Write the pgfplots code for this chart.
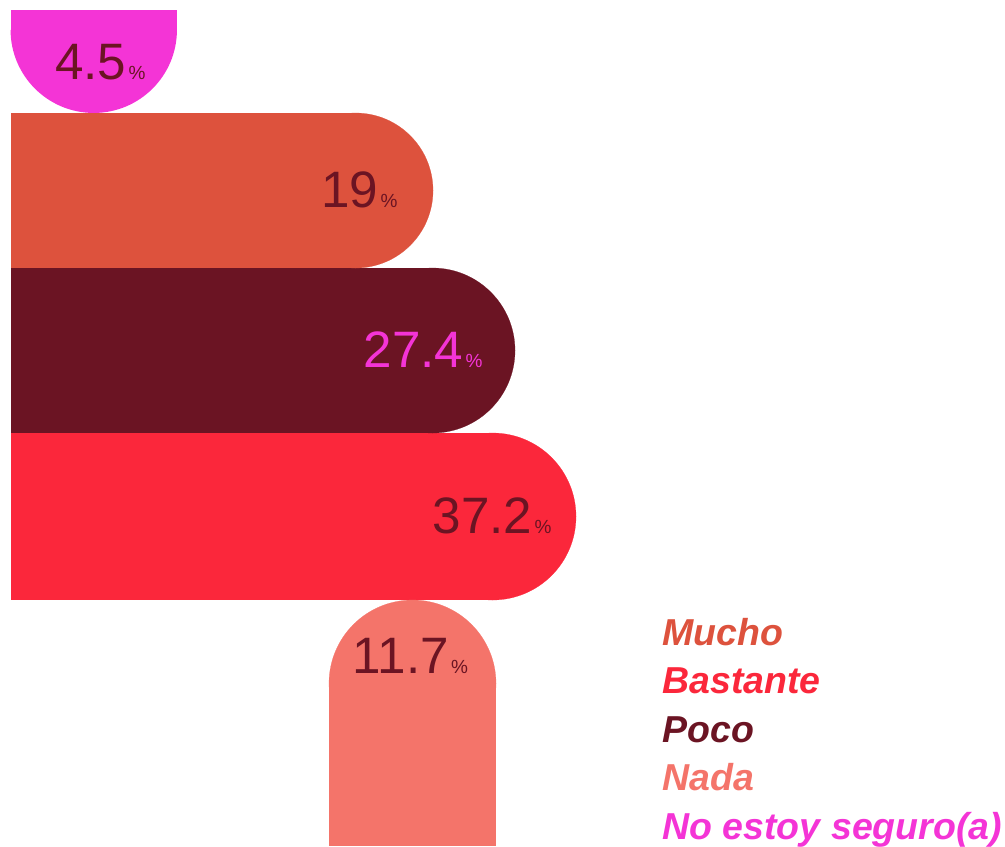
\documentclass[border=0pt]{standalone}
\usepackage{pgfplots}
\pgfplotsset{compat=1.18}
\usetikzlibrary{plotmarks}
\usepackage{fontspec}
\setmainfont{Liberation Sans}
\definecolor{cmucho}{HTML}{DD523D}
\definecolor{cbast}{HTML}{FB273B}
\definecolor{cpoco}{HTML}{6B1423}
\definecolor{cnada}{HTML}{F4746A}
\definecolor{cnose}{HTML}{F434D6}
\pgfdeclareplotmark{lowerhalfdisc}{%
  \pgfpathmoveto{\pgfqpoint{\pgfplotmarksize}{0pt}}%
  \pgfpatharc{0}{-180}{\pgfplotmarksize}%
  \pgfpathclose
  \pgfusepathqfill}
\begin{document}
\begin{tikzpicture}
\begin{axis}[hide axis, scale only axis, width=502.5pt, height=423pt,
  xmin=0, xmax=1005, ymin=0, ymax=846, y dir=reverse, clip=false]
% No estoy seguro(a): 4.5
\addplot[fill=cnose, draw=none] coordinates {(10.5,10) (177,10) (177,30) (10.5,30)} -- cycle;
\addplot[only marks, mark=lowerhalfdisc, mark size=41.6pt,
  mark options={fill=cnose}] coordinates {(93.75,29.75)};
% Mucho: 19
\addplot[fill=cmucho, draw=none] coordinates {(10.5,113) (356,113) (356,268) (10.5,268)} -- cycle;
\addplot[only marks, mark=*, mark size=38.75pt,
  mark options={fill=cmucho, draw=cmucho, line width=0.1pt}] coordinates {(355.5,190.5)};
% Poco: 27.4
\addplot[fill=cpoco, draw=none] coordinates {(10.5,268) (433,268) (433,433) (10.5,433)} -- cycle;
\addplot[only marks, mark=*, mark size=41.25pt,
  mark options={fill=cpoco, draw=cpoco, line width=0.1pt}] coordinates {(432.5,350.5)};
% Bastante: 37.2
\addplot[fill=cbast, draw=none] coordinates {(10.5,433) (493,433) (493,600) (10.5,600)} -- cycle;
\addplot[only marks, mark=*, mark size=41.75pt,
  mark options={fill=cbast, draw=cbast, line width=0.1pt}] coordinates {(492.5,516.5)};
% Nada: 11.7
\addplot[fill=cnada, draw=none] coordinates {(329,683) (496,683) (496,846) (329,846)} -- cycle;
\addplot[only marks, mark=*, mark size=41.75pt,
  mark options={fill=cnada, draw=cnada, line width=0.1pt}] coordinates {(412.5,683.5)};
% value labels
\addplot[draw=none, mark=none, point meta=explicit symbolic,
  nodes near coords={\pgfplotspointmeta\hspace{1.2pt}{\fontsize{9.5}{10}\selectfont\%}},
  nodes near coords style={anchor=base east, inner sep=0pt, text=cpoco,
    font=\fontsize{25.6}{26}\selectfont}]
  coordinates {(146,79)[4.5] (398,207)[19] (552,533)[37.2] (468.5,673)[11.7]};
\addplot[draw=none, mark=none, point meta=explicit symbolic,
  nodes near coords={\pgfplotspointmeta\hspace{1.2pt}{\fontsize{9.5}{10}\selectfont\%}},
  nodes near coords style={anchor=base east, inner sep=0pt, text=cnose,
    font=\fontsize{25.6}{26}\selectfont}]
  coordinates {(483,367)[27.4]};
% legend
\node[anchor=base west, inner sep=0pt, text=cmucho, font=\fontsize{18.75}{20}\selectfont\bfseries\itshape] at (axis cs:662,645) {Mucho};
\node[anchor=base west, inner sep=0pt, text=cbast, font=\fontsize{18.75}{20}\selectfont\bfseries\itshape] at (axis cs:662,693.5) {Bastante};
\node[anchor=base west, inner sep=0pt, text=cpoco, font=\fontsize{18.75}{20}\selectfont\bfseries\itshape] at (axis cs:662,742) {Poco};
\node[anchor=base west, inner sep=0pt, text=cnada, font=\fontsize{18.75}{20}\selectfont\bfseries\itshape] at (axis cs:662,790.5) {Nada};
\node[anchor=base west, inner sep=0pt, text=cnose, font=\fontsize{18.75}{20}\selectfont\bfseries\itshape] at (axis cs:662,839) {No estoy seguro(a)};
\end{axis}
\path (current axis.south west) rectangle (current axis.north east);
\end{tikzpicture}
\end{document}
